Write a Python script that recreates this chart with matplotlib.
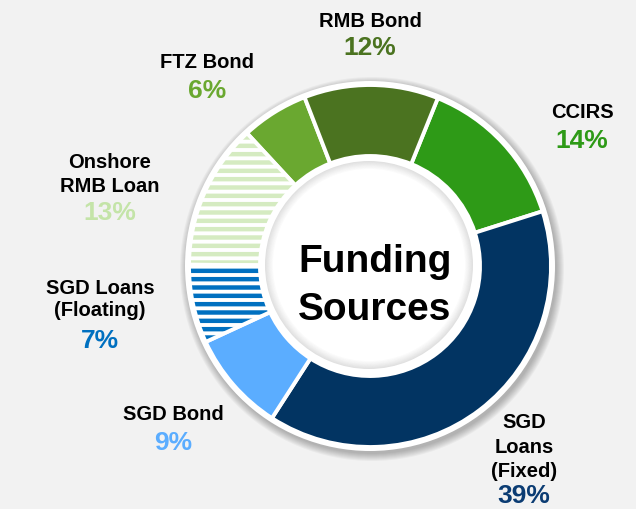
import matplotlib
matplotlib.use("Agg")
import matplotlib.pyplot as plt
from matplotlib.patches import Circle, Wedge

plt.rcParams['font.family'] = ['Liberation Sans', 'DejaVu Sans']
plt.rcParams['hatch.linewidth'] = 3.2

W, H = 636, 509

# data (clockwise from top)
sources  = ['CCIRS', 'SGD Loans (Fixed)', 'SGD Bond', 'SGD Loans (Floating)',
            'Onshore RMB Loan', 'FTZ Bond', 'RMB Bond']
shares   = [14, 39, 9, 7, 13, 6, 12]
colors   = ['#2e9a17', '#023462', '#5badff', '#ffffff', '#ffffff', '#6aa830', '#4b7320']
stripes  = [None, None, None, '#0070c0', '#d5ebc1', None, None]
label_lines = [['CCIRS'], ['SGD', 'Loans', '(Fixed)'], ['SGD Bond'],
               ['SGD Loans', '(Floating)'], ['Onshore', 'RMB Loan'],
               ['FTZ Bond'], ['RMB Bond']]
pct_colors = ['#2e9a17', '#0b3c73', '#5badff', '#0070c0', '#c4e4a8', '#6aa830', '#4b7320']

# label placement (pixel coords: x centre, baselines of each line, baseline of %)
label_x = [582, 524, 173, 100, 110, 207, 370]
label_base = [[118], [428, 453, 477], [420], [294, 316], [168, 192], [68], [27]]
pct_base = [148, 503, 450, 348, 220, 98, 55]

cx, cy = 370, H - 266

fig = plt.figure(figsize=(W / 100, H / 100), dpi=100, facecolor='#f2f2f2')
ax = fig.add_axes([0, 0, 1, 1])
ax.set_facecolor('#f2f2f2')

# soft outer shadow
for i in range(8):
    ax.add_patch(Circle((cx + 2, cy - 3), 185 + i, color='#000000', alpha=0.035,
                        lw=0, zorder=0))
ax.add_patch(Circle((cx, cy), 185, color='white', lw=0, zorder=1))

wedges, _ = ax.pie(shares, colors=colors, startangle=68, counterclock=False,
                   radius=181, center=(cx, cy),
                   wedgeprops=dict(width=71, edgecolor='white', linewidth=2.8))
for w in wedges:
    w.set_zorder(2)

# striped wedges
for w, sc in zip(wedges, stripes):
    if sc is None:
        continue
    hw = Wedge(w.center, w.r, w.theta1, w.theta2, width=w.width,
               facecolor='white', edgecolor=sc, hatch='--', lw=0, zorder=2)
    if hasattr(hw, 'set_hatch_linewidth'):
        hw.set_hatch_linewidth(3.2)
    else:
        hw._hatch_linewidth = 3.2
    ax.add_patch(hw)
    w.set_facecolor('none')
    w.set_zorder(3)

# inner white ring + inner shadow
ax.add_patch(Wedge((cx, cy), 111, 0, 360, width=7, color='white', lw=0, zorder=4))
for i in range(8):
    ax.add_patch(Wedge((cx - 1, cy + 1), 104 - i, 0, 360, width=1,
                       color='#000000', alpha=0.12 * (1 - i / 8), lw=0, zorder=4))

ax.text(375, H - 272, 'Funding', ha='center', va='baseline', fontsize=28,
        fontweight='bold', color='black', zorder=5)
ax.text(375, H - 320, 'Sources', ha='center', va='baseline', fontsize=28,
        fontweight='bold', color='black', zorder=5)

for lines, bases, x, pb, pc, s in zip(label_lines, label_base, label_x,
                                      pct_base, pct_colors, shares):
    for line, b in zip(lines, bases):
        ax.text(x, H - b, line, ha='center', va='baseline', fontsize=14.5,
                fontweight='bold', color='black')
    ax.text(x, H - pb, f'{s}%', ha='center', va='baseline', fontsize=19,
            fontweight='bold', color=pc)

ax.set_xlim(0, W)
ax.set_ylim(0, H)
ax.set_aspect('equal')
ax.axis('off')

fig.savefig('out.png', dpi=100, facecolor='#f2f2f2')
